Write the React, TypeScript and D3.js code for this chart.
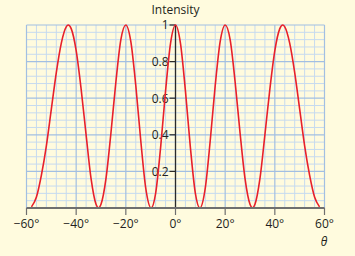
import React from "react";
import * as d3 from "d3";

const thetas = [
  -58, -56, -54, -52, -50, -48, -46, -44, -43.2, -42, -40, -38, -36, -34, -32, -31, -30,
  -28, -26, -24, -22, -20, -18, -16, -14, -12, -9.8, -8, -6, -4, -2, 0,
  2, 4, 6, 8, 9.8, 12, 14, 16, 18, 20, 22, 24, 26, 28,
  30, 31, 32, 34, 36, 38, 40, 42, 43.2, 44, 46, 48, 50, 52, 54, 56, 58,
];
const intensities = [
  0.006, 0.06, 0.18, 0.34, 0.54, 0.74, 0.9, 0.99, 1, 0.98, 0.86, 0.65, 0.4, 0.16, 0.02, 0, 0.02,
  0.16, 0.41, 0.69, 0.92, 1, 0.91, 0.67, 0.37, 0.11, 0, 0.08, 0.33, 0.64, 0.9, 1,
  0.9, 0.64, 0.33, 0.08, 0, 0.11, 0.37, 0.67, 0.91, 1, 0.92, 0.69, 0.41, 0.16,
  0.02, 0, 0.02, 0.16, 0.4, 0.65, 0.86, 0.98, 1, 0.99, 0.9, 0.74, 0.54, 0.34, 0.18, 0.06, 0.006,
];
const xTicks = [-60, -40, -20, 0, 20, 40, 60];
const yTicks = [0.2, 0.4, 0.6, 0.8, 1];
const yTickLabels = ["0.2", "0.4", "0.6", "0.8", "1"];
const xMinorStep = 4;
const yMinorStep = 0.04;

export default function App() {
  const W = 355, H = 256;
  const x = d3.scaleLinear().domain([-60, 60]).range([26.5, 324.5]);
  const y = d3.scaleLinear().domain([0, 1]).range([208, 25]);
  const font = "'Open Sans', sans-serif";
  const xGrid = d3.range(-60, 60.001, xMinorStep);
  const yGrid = d3.range(0, 1.0001, yMinorStep);
  const pts: [number, number][] = thetas.map((t, i) => [t, intensities[i]]);
  const line = d3
    .line<[number, number]>()
    .x((d) => x(d[0]))
    .y((d) => y(d[1]))
    .curve(d3.curveMonotoneX);
  const isMajorX = (v: number) => Math.abs(v / 20 - Math.round(v / 20)) < 1e-6;
  const isMajorY = (v: number) => Math.abs(v / 0.2 - Math.round(v / 0.2)) < 1e-6;
  const fmtX = (v: number) => (v < 0 ? "\u2212" + Math.abs(v) : String(v)) + "\u00b0";

  return (
    <svg
      width={W}
      height={H}
      style={{ position: "absolute", left: 0, top: 0, background: "#fffbde" }}
      fontFamily={font}
    >
      <rect x={0} y={0} width={W} height={H} fill="#fffbde" />
      {xGrid.filter((v) => !isMajorX(v)).map((v) => (
        <line key={"xg" + v} x1={x(v)} x2={x(v)} y1={y(1)} y2={y(0)} stroke="#c6daef" strokeWidth={1} />
      ))}
      {yGrid.filter((v) => !isMajorY(v)).map((v) => (
        <line key={"yg" + v} x1={x(-60)} x2={x(60)} y1={y(v)} y2={y(v)} stroke="#c6daef" strokeWidth={1} />
      ))}
      {xGrid.filter((v) => isMajorX(v)).map((v) => (
        <line key={"xm" + v} x1={x(v)} x2={x(v)} y1={y(1)} y2={y(0)} stroke="#a2bfe2" strokeWidth={1.2} />
      ))}
      {yGrid.filter((v) => isMajorY(v)).map((v) => (
        <line key={"ym" + v} x1={x(-60)} x2={x(60)} y1={y(v)} y2={y(v)} stroke="#a2bfe2" strokeWidth={1.2} />
      ))}
      {/* y axis at 0 */}
      <line x1={x(0)} x2={x(0)} y1={y(1)} y2={y(0)} stroke="#2a2a2a" strokeWidth={1.3} />
      {yTicks.map((v, i) => (
        <g key={"yt" + v}>
          <line x1={x(0) - 6} x2={x(0)} y1={y(v)} y2={y(v)} stroke="#2a2a2a" strokeWidth={1.2} />
          <text x={x(0) - 7} y={y(v)} dy="0.36em" textAnchor="end" fontSize={12} fill="#231f20">
            {yTickLabels[i]}
          </text>
        </g>
      ))}
      <path d={line(pts) || ""} fill="none" stroke="#e8202a" strokeWidth={1.6} />
      {/* x axis */}
      <line x1={x(-60)} x2={x(60)} y1={y(0)} y2={y(0)} stroke="#6f6f6f" strokeWidth={2} />
      {xTicks.map((v) => (
        <g key={"xt" + v}>
          <line x1={x(v)} x2={x(v)} y1={y(0)} y2={y(0) + 7} stroke="#6f6f6f" strokeWidth={1.2} />
          <text x={x(v)} y={228} textAnchor="middle" fontSize={12} fill="#231f20">
            {fmtX(v)}
          </text>
        </g>
      ))}
      <text x={x(0)} y={14} textAnchor="middle" fontSize={12} fill="#231f20">
        Intensity
      </text>
      <text x={324} y={246} textAnchor="middle" fontSize={12} fontStyle="italic" fill="#231f20">
        θ
      </text>
    </svg>
  );
}
